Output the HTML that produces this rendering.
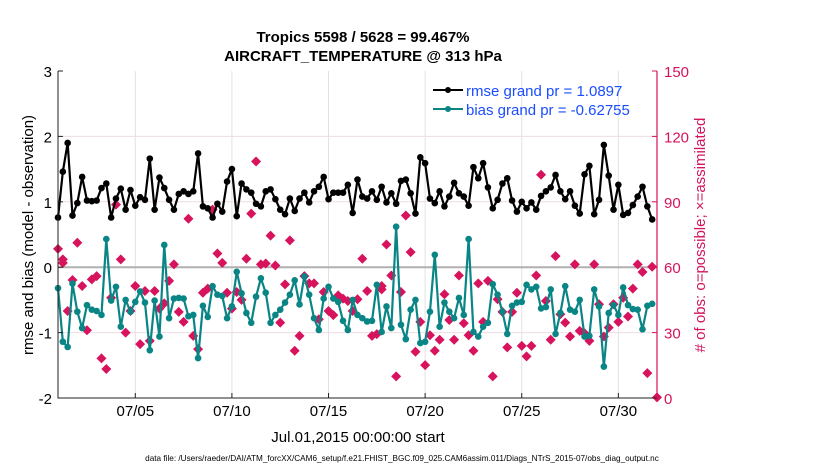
<!DOCTYPE html>
<html><head><meta charset="utf-8"><style>
body{margin:0;background:#fff;}
svg{display:block;font-family:"Liberation Sans",Arial,sans-serif;}
</style></head><body>
<svg id="chart" width="830" height="470" xmlns="http://www.w3.org/2000/svg">
<text x="363" y="42" text-anchor="middle" font-size="15" font-weight="bold">Tropics 5598 / 5628 = 99.467%</text>
<text x="363" y="61" text-anchor="middle" font-size="15" font-weight="bold">AIRCRAFT_TEMPERATURE @ 313 hPa</text>
<g id="grid"></g>
<g id="marks"></g>
<g id="axes"></g>
<text x="0" y="0" transform="translate(33,235) rotate(-90)" text-anchor="middle" font-size="15">rmse and bias (model - observation)</text>
<text x="0" y="0" transform="translate(705,235) rotate(-90)" text-anchor="middle" font-size="15" fill="#d6135c"># of obs: o=possible; ×=assimilated</text>
<text x="358" y="442" text-anchor="middle" font-size="15">Jul.01,2015 00:00:00 start</text>
<text x="402" y="461" text-anchor="middle" font-size="8.2">data file: /Users/raeder/DAI/ATM_forcXX/CAM6_setup/f.e21.FHIST_BGC.f09_025.CAM6assim.011/Diags_NTrS_2015-07/obs_diag_output.nc</text>
<g>
<g><line x1="433" y1="90" x2="463" y2="90" stroke="#000" stroke-width="2"/><circle cx="448" cy="90" r="3" fill="#000"/><text x="466" y="96" font-size="15" fill="#1a4dff">rmse grand pr = 1.0897</text></g>
<g><line x1="433" y1="109" x2="463" y2="109" stroke="#0a8585" stroke-width="2"/><circle cx="448" cy="109" r="3" fill="#0a8585"/><text x="466" y="115" font-size="15" fill="#1a4dff">bias grand pr = -0.62755</text></g>
</g>
</svg>
<script>
const rmse=[0.76,1.46,1.9,0.79,0.98,1.38,1.02,1.01,1.02,1.21,1.28,0.76,1.05,1.2,0.88,1.18,0.94,1.07,1.03,1.66,0.88,1.37,1.21,1.03,0.88,1.12,1.16,1.12,1.16,1.74,0.93,0.9,
0.76,0.97,0.85,1.31,1.5,0.78,1.28,1.19,1.14,0.97,0.93,1.16,1.19,1.04,0.88,0.81,1.05,0.86,1.05,1.14,0.99,1.16,1.23,1.38,1.04,1.14,1.14,1.14,1.26,0.83,1.34,
1.08,1.05,1.16,1.03,1.23,0.99,1.13,0.97,1.32,1.34,1.13,0.82,1.68,1.59,1.05,0.98,1.16,0.93,1.08,1.29,1.13,1.08,0.94,1.53,1.36,1.59,1.22,0.9,1.03,
1.28,1.36,1.02,0.85,1.0,0.9,0.99,0.88,1.09,1.16,1.22,1.41,1.16,1.04,1.16,0.94,0.82,1.42,1.55,0.81,1.03,1.87,1.4,0.88,1.26,0.8,0.83,0.95,1.08,1.23,0.93,0.73];
const bias=[-0.32,-1.14,-1.22,-0.25,-0.68,-0.93,-0.58,-0.65,-0.67,-0.73,0.43,-0.51,-0.3,-0.91,-0.5,-0.68,-0.53,-0.37,-0.54,-1.27,-0.51,-1.06,0.34,-0.78,-0.48,-0.47,-0.48,-0.75,-0.73,-1.39,-0.59,-0.76,
-0.29,-0.42,-0.44,-0.78,-0.6,-0.07,-0.4,-0.7,-0.85,-0.45,-0.17,-0.39,-0.85,-0.73,-0.65,-0.54,-0.42,-0.2,-0.57,-0.14,-0.42,-0.78,-0.96,-0.48,-0.3,-0.48,-0.53,-0.82,-0.96,-0.5,-0.73,
-0.78,-0.83,-0.82,-0.27,-0.99,-0.6,-0.93,0.62,-0.88,-1.1,-0.65,-0.5,-1.16,-1.14,-0.68,0.19,-0.91,-0.54,-0.68,-0.78,-0.47,-0.73,0.43,-0.99,-1.06,-0.91,-0.85,-0.26,-0.42,
-0.68,-1.02,-0.59,-0.54,-0.53,-0.27,-0.34,-0.3,-0.63,-0.61,-0.34,-1.02,-0.7,-0.29,-0.65,-0.68,-0.5,-1.06,-1.05,-0.34,-0.6,-1.52,-0.7,-0.58,-0.73,-0.31,-0.58,-0.64,-0.65,-0.95,-0.59,-0.56];
const obsTimes=[0,0.25,0.25,0.5,0.75,1,1.25,1.5,1.75,2,2.25,2.5,2.75,3,3.25,3.5,3.75,4,4.25,4.5,4.75,5,5.25,5.5,5.75,6,6.25,6.5,6.75,7,7.25,7.5,7.75,
8,8.25,8.5,8.75,9,9.25,9.5,9.75,10,10.25,10.5,10.75,11,11.25,11.5,11.75,12,12.25,12.5,12.75,13,13.25,13.5,13.75,14,14.25,14.5,14.75,15,15.25,
15.5,15.75,16,16.25,16.5,16.75,16.75,17,17.25,17.5,17.75,18,18.25,18.5,18.75,19,19.25,19.5,19.75,20,20.25,20.5,20.75,21,21.25,21.5,21.75,22,22.25,22.5,22.75,23,23.25,
23.5,23.75,24,24.25,24.5,24.75,25,25.25,25.5,25.75,26,26.25,26.5,26.75,27,27.25,27.5,27.75,28,28.25,28.5,28.75,29,29.25,29.5,29.75,30,30.25,30.5,30.75,31];
const obsCounts=[68.4,63.6,62,39.9,54.1,71.2,51.4,31.1,54.4,55.9,18.2,13.3,46,88.7,63.6,30,39.9,51.4,24.7,49.1,26.2,49.1,41,43.4,53.7,61.3,39.5,34.9,82.2,28.5,22.4,48.3,50.2,
86.4,66.3,62,48.3,41,48.6,45,63.9,84.6,108.5,61.3,61.7,74.5,60.8,34.6,52.1,72.3,21.7,28.5,55.9,52.6,52.6,36.1,48.6,39.9,38,47.1,45.6,44.5,39.9,
45.3,63.9,49.1,28.5,29.3,51.4,49.8,70.4,56.2,9.9,48.6,83.7,66.9,21.2,34.9,15.1,28.8,21.7,26.7,47.6,35.8,26.7,56.2,34.3,28.8,21.7,52.6,34.9,53.7,9.9,45.3,39.5,23.2,
39.5,48.3,23.9,19.1,23.9,56.2,102.4,44.5,26.7,65.1,38.4,34.6,28.2,61.3,30.8,29.7,26.2,61.3,43,28.2,32.3,43,34.9,46,37.4,50.2,61.3,57.8,11.4,60.2,0.3];
const xTicks=[4,9,14,19,24,29];
const xTickLabels=["07/05","07/10","07/15","07/20","07/25","07/30"];
const yTicks=[-2,-1,0,1,2,3];
const y2Ticks=[0,30,60,90,120,150];

const NS="http://www.w3.org/2000/svg";
const L=58,R=657,T=71,B=398;
const X=t=>L+(t-0)*(R-L)/31;
const Y=v=>B-(v+2)*(B-T)/5;
const Y2=c=>B-c*(B-T)/150;
function mk(tag,attrs,parent){const e=document.createElementNS(NS,tag);for(const k in attrs)e.setAttribute(k,attrs[k]);parent.appendChild(e);return e;}
const grid=document.getElementById('grid'),marks=document.getElementById('marks'),axes=document.getElementById('axes');
xTicks.forEach((t,i)=>{
  const g=mk('line',{x1:X(t),x2:X(t),y1:T,y2:B,stroke:'#e2e2e2','stroke-width':1},grid);
  
  
  mk('line',{x1:X(t),x2:X(t),y1:B,y2:B-5,stroke:'#222'},axes);
  const tx=mk('text',{x:X(t),y:416,'text-anchor':'middle','font-size':15},axes);
  tx.textContent=xTickLabels[i];
  
  
});
yTicks.forEach(v=>{
  if(v>-2&&v<3){const g=mk('line',{x1:L,x2:R,y1:Y(v),y2:Y(v),stroke:'#f0dbe4','stroke-width':1},grid);
  
  }
  mk('line',{x1:L,x2:L+5,y1:Y(v),y2:Y(v),stroke:'#222'},axes);
  const tx=mk('text',{x:L-6,y:Y(v)+6,'text-anchor':'end','font-size':15},axes);
  tx.textContent=v;
  
  
});
y2Ticks.forEach(c=>{
  mk('line',{x1:R,x2:R-5,y1:Y2(c),y2:Y2(c),stroke:'#d6135c'},axes);
  const tx=mk('text',{x:R+7,y:Y2(c)+6,'font-size':15,fill:'#d6135c'},axes);
  tx.textContent=c;
  
  
});
const zl=mk('line',{x1:L,x2:R,y1:Y(0),y2:Y(0),stroke:'#b0b0b0','stroke-width':2},grid);


const ax=mk('path',{d:`M${L},${T}V${B}H${R}`,fill:'none',stroke:'#222','stroke-width':1},axes);


const ax2=mk('line',{x1:R,x2:R,y1:T,y2:B,stroke:'#d6135c','stroke-width':1.2},axes);


obsTimes.forEach((t,i)=>{
  const x=X(t),y=Y2(obsCounts[i]);
  const d=mk('path',{d:`M${x},${y-5}L${x+5},${y}L${x},${y+5}L${x-5},${y}Z`,fill:'#d6135c'},marks);
  
  
});
function series(vals,color,name){
  const pts=vals.map((v,i)=>[X(i*0.25),Y(v)]);
  const p=mk('polyline',{points:pts.map(p=>p.join(',')).join(' '),fill:'none',stroke:color,'stroke-width':2.2,'stroke-linejoin':'round'},marks);
  
  
  pts.forEach(q=>{
    const c=mk('circle',{cx:q[0],cy:q[1],r:3.3,fill:color},marks);
    
    
  });
}
series(bias,'#0a8585','bias');
series(rmse,'#000','rmse');
</script>
</body></html>
